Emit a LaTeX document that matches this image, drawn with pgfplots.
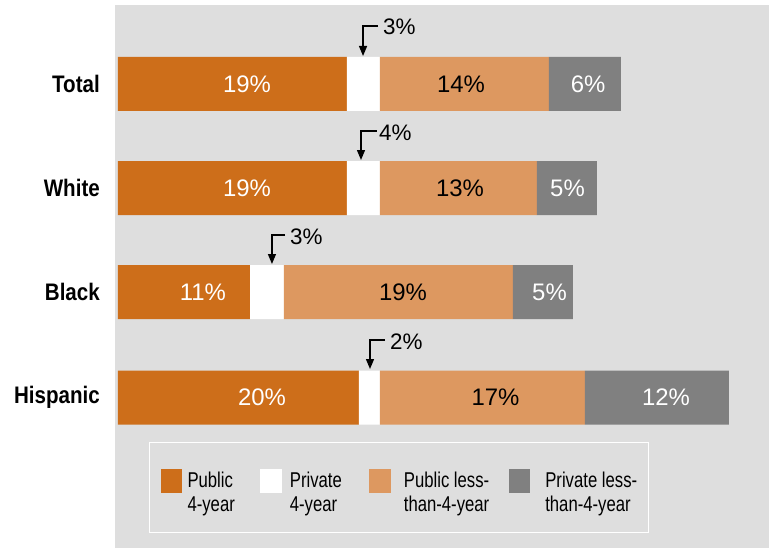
\documentclass[border=0pt]{standalone}
\usepackage{pgfplots}
\pgfplotsset{compat=1.18}
\usepackage{fontspec}
\setmainfont{Liberation Sans}
\newfontfamily\catfont{Liberation Sans}[FakeStretch=0.86]
\newfontfamily\legfont{Liberation Sans}[FakeStretch=0.78]
\usetikzlibrary{arrows.meta}
\definecolor{darkor}{RGB}{205,110,26}
\definecolor{lightor}{RGB}{221,152,96}
\definecolor{grayb}{RGB}{128,128,128}
\definecolor{bg}{RGB}{222,222,222}
\newcommand{\lt}[2]{\begin{tabular}[b]{@{}l@{}}#1\\#2\end{tabular}}
\begin{document}
\begin{tikzpicture}
\begin{axis}[
  scale only axis, width=654bp, height=543bp,
  xmin=-0.25, xmax=54.25, ymin=5, ymax=548, y dir=reverse,
  axis background/.style={fill=bg},
  axis line style={draw=none},
  xtick=\empty,
  ytick={84,188,292,397.5},
  yticklabels={Total,White,Black,Hispanic},
  major tick length=0pt,
  yticklabel style={font=\catfont\bfseries\fontsize{24}{28}\selectfont, text=black, anchor=east, inner sep=0pt, xshift=-15bp},
  bar width=54,
  legend style={at={(axis description cs:0.052,0.0276)}, anchor=south west,
    draw=white, line width=1bp, fill=bg, legend columns=4,
    inner xsep=11bp, inner ysep=20bp,
    font=\legfont\fontsize{21.5}{24}\selectfont,
    nodes={anchor=base west, inner sep=0pt},
    /tikz/column 1/.style={column sep=6bp},
    /tikz/column 2/.style={column sep=25bp},
    /tikz/column 3/.style={column sep=8bp},
    /tikz/column 4/.style={column sep=27bp},
    /tikz/column 5/.style={column sep=13bp},
    /tikz/column 6/.style={column sep=20bp},
    /tikz/column 7/.style={column sep=15bp},
    /tikz/column 8/.style={column sep=0bp}},
]
\addplot[xbar stacked, fill=darkor, draw=none,
  legend image code/.code={\path (0bp,49bp); \fill[darkor] (0bp,18bp) rectangle (21bp,42bp);}]
  coordinates {(19.08,84) (19.08,188) (11.0,292) (20.08,397.5)};
\addlegendentry{\lt{Public}{4-year}}
\addplot[xbar stacked, fill=white, draw=none,
  legend image code/.code={\path (0bp,49bp); \fill[white] (0bp,18bp) rectangle (22bp,42bp);}]
  coordinates {(2.75,84) (2.75,188) (2.83,292) (1.75,397.5)};
\addlegendentry{\lt{Private}{4-year}}
\addplot[xbar stacked, fill=lightor, draw=none,
  legend image code/.code={\path (0bp,49bp); \fill[lightor] (0bp,18bp) rectangle (22bp,42bp);}]
  coordinates {(14.08,84) (13.08,188) (19.08,292) (17.08,397.5)};
\addlegendentry{\lt{Public less-}{than-4-year}}
\addplot[xbar stacked, fill=grayb, draw=none,
  legend image code/.code={\path (0bp,49bp); \fill[grayb] (0bp,18bp) rectangle (21bp,42bp);}]
  coordinates {(6.0,84) (5.0,188) (5.0,292) (12.0,397.5)};
\addlegendentry{\lt{Private less-}{than-4-year}}
% value labels (white text)
\addplot[draw=none, forget plot, nodes near coords={\pgfplotspointmeta\%}, point meta=explicit symbolic,
  nodes near coords style={text=white, anchor=center, inner sep=0pt, font=\fontsize{24}{28}\selectfont}]
  table[meta=label] {
x y label
10.75 84 19
10.75 188 19
7.08 292 11
12.0 397.5 20
39.17 84 6
37.46 188 5
35.96 292 5
45.67 397.5 12
};
% value labels (black text)
\addplot[draw=none, forget plot, nodes near coords={\pgfplotspointmeta\%}, point meta=explicit symbolic,
  nodes near coords style={text=black, anchor=center, inner sep=0pt, font=\fontsize{24}{28}\selectfont}]
  table[meta=label] {
x y label
28.58 84 14
28.5 188 13
23.75 292 19
31.46 397.5 17
};
% callouts for the private 4-year segment
\draw[line width=1.3bp, -{Triangle[length=10bp,width=8bp]}] (axis cs:21.67,26) -- (axis cs:20.42,26) -- (axis cs:20.42,56);
\node[anchor=west, inner sep=0pt, font=\fontsize{22.5}{24}\selectfont] at (axis cs:22.08,27) {3\%};
\draw[line width=1.3bp, -{Triangle[length=10bp,width=8bp]}] (axis cs:21.58,131) -- (axis cs:20.25,131) -- (axis cs:20.25,160);
\node[anchor=west, inner sep=0pt, font=\fontsize{22.5}{24}\selectfont] at (axis cs:21.75,133) {4\%};
\draw[line width=1.3bp, -{Triangle[length=10bp,width=8bp]}] (axis cs:13.92,235) -- (axis cs:12.83,235) -- (axis cs:12.83,264);
\node[anchor=west, inner sep=0pt, font=\fontsize{22.5}{24}\selectfont] at (axis cs:14.33,237) {3\%};
\draw[line width=1.3bp, -{Triangle[length=10bp,width=8bp]}] (axis cs:22.25,340) -- (axis cs:21.0,340) -- (axis cs:21.0,369);
\node[anchor=west, inner sep=0pt, font=\fontsize{22.5}{24}\selectfont] at (axis cs:22.67,342) {2\%};
\coordinate (BL) at (axis cs:-0.25,548);
\coordinate (TR) at (axis cs:54.25,5);
\end{axis}
\pgfresetboundingbox
\path ([xshift=-115bp]BL) rectangle ([yshift=5bp]TR);
\end{tikzpicture}
\end{document}
